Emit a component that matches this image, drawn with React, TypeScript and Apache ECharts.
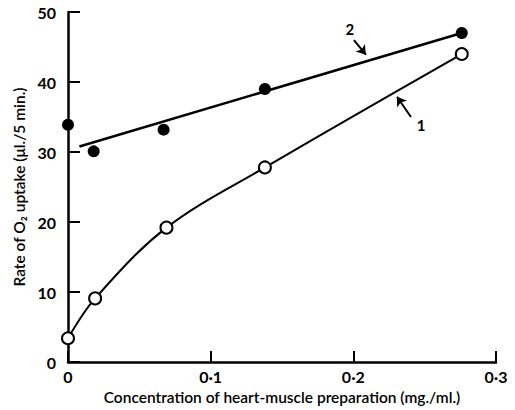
import React, { useEffect, useRef } from "react";
import * as echarts from "echarts";

const concentration1 = [0, 0.019, 0.069, 0.138, 0.276];
const uptake1 = [3.4, 9.1, 19.2, 27.8, 44.0];
const concentration2 = [0, 0.018, 0.067, 0.138, 0.276];
const uptake2 = [33.9, 30.1, 33.2, 39.0, 47.0];
const fitLine2: [number, number][] = [
  [0.008, 30.8],
  [0.276, 47.0],
];
const xTicks = [0, 0.1, 0.2, 0.3];
const yTicks = [0, 10, 20, 30, 40, 50];

const FONT = "Lato";

export default function App() {
  const ref = useRef<HTMLDivElement>(null);
  useEffect(() => {
    if (!ref.current) return;
    const chart = echarts.init(ref.current, null, { renderer: "svg" });
    const axisLine = { show: true, lineStyle: { color: "#000", width: 2.5 } };
    chart.setOption({
      animation: false,
      backgroundColor: "#fff",
      grid: { left: 68, right: 19, top: 12, bottom: 47 },
      xAxis: {
        type: "value",
        min: 0,
        max: 0.3,
        interval: 0.1,
        axisLine,
        axisTick: { show: true, inside: true, length: 11, lineStyle: { color: "#000", width: 2 } },
        splitLine: { show: false },
        axisLabel: {
          color: "#000",
          fontFamily: FONT,
          fontWeight: "bold",
          fontSize: 16,
          margin: 6,
          formatter: (v: number) => {
            const i = xTicks.findIndex((t) => Math.abs(t - v) < 1e-9);
            return i === 0 ? "0" : String(xTicks[i]).replace(".", "·").replace(/^·/, "0·");
          },
        },
        name: "Concentration of heart-muscle preparation (mg./ml.)",
        nameLocation: "middle",
        nameGap: 25,
        nameTextStyle: { color: "#000", fontFamily: FONT, fontWeight: 600, fontSize: 15.5 },
      },
      yAxis: {
        type: "value",
        min: 0,
        max: 50,
        interval: 10,
        axisLine,
        axisTick: { show: true, inside: true, length: 12, lineStyle: { color: "#000", width: 2 } },
        splitLine: { show: false },
        axisLabel: {
          color: "#000",
          fontFamily: FONT,
          fontWeight: "bold",
          fontSize: 16,
          margin: 12,
          formatter: (v: number) => String(yTicks[yTicks.indexOf(v)] ?? v),
        },
        name: "Rate of O₂ uptake (μl./5 min.)",
        nameLocation: "middle",
        nameGap: 40,
        nameTextStyle: { color: "#000", fontFamily: FONT, fontWeight: 600, fontSize: 15.5 },
      },
      series: [
        {
          type: "line",
          data: concentration1.map((x, i) => [x, uptake1[i]]),
          smooth: 0.35,
          symbol: "circle",
          symbolSize: 12,
          itemStyle: { color: "#fff", borderColor: "#000", borderWidth: 2 },
          lineStyle: { color: "#000", width: 2 },
          z: 3,
          markLine: {
            silent: true,
            symbol: ["none", "arrow"],
            symbolSize: 9,
            lineStyle: { color: "#000", width: 2, type: "solid" },
            label: { show: false },
            data: [
              [
                { coord: [0.2404, 35.0] },
                { coord: [0.2306, 37.9] },
              ],
            ],
          },
          markPoint: {
            silent: true,
            symbol: "circle",
            symbolSize: 0,
            label: { show: true, color: "#000", fontFamily: FONT, fontWeight: "bold", fontSize: 15, formatter: "1" },
            data: [{ coord: [0.2475, 33.9] }],
          },
        },
        {
          type: "line",
          data: fitLine2,
          symbol: "none",
          lineStyle: { color: "#000", width: 2.5 },
          z: 2,
          markLine: {
            silent: true,
            symbol: ["none", "arrow"],
            symbolSize: 9,
            lineStyle: { color: "#000", width: 2, type: "solid" },
            label: { show: false },
            data: [
              [
                { coord: [0.2004, 46.0] },
                { coord: [0.2088, 43.9] },
              ],
            ],
          },
          markPoint: {
            silent: true,
            symbol: "circle",
            symbolSize: 0,
            label: { show: true, color: "#000", fontFamily: FONT, fontWeight: "bold", fontSize: 15, formatter: "2" },
            data: [{ coord: [0.1976, 47.6] }],
          },
        },
        {
          type: "scatter",
          data: concentration2.map((x, i) => [x, uptake2[i]]),
          symbol: "circle",
          symbolSize: 12,
          itemStyle: { color: "#000", opacity: 1 },
          z: 4,
        },
      ],
    });
    return () => chart.dispose();
  }, []);
  return (
    <div
      ref={ref}
      style={{ position: "fixed", left: 0, top: 0, width: 515, height: 410, background: "#fff" }}
    />
  );
}
